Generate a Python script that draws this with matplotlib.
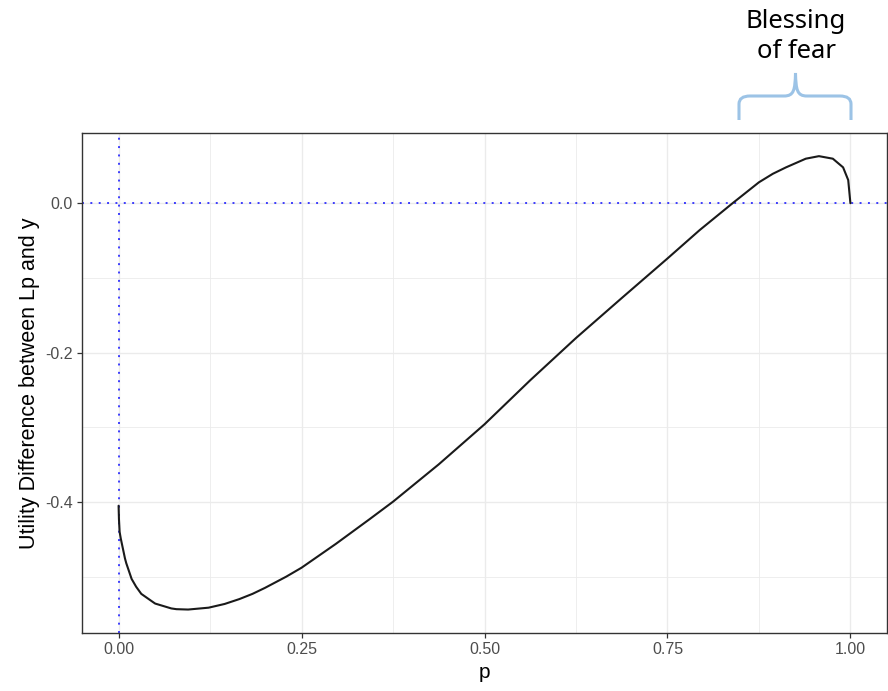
import matplotlib
matplotlib.use("Agg")
import matplotlib.pyplot as plt
import matplotlib.transforms as mtransforms
from matplotlib.path import Path
from matplotlib.patches import PathPatch

# Data
p_vals = [0.0, 0.0005, 0.0014, 0.003, 0.0087, 0.0105, 0.0178, 0.024, 0.031, 0.047,
          0.050, 0.072, 0.079, 0.095, 0.123, 0.145, 0.165, 0.183, 0.2, 0.229,
          0.25, 0.297, 0.343, 0.375, 0.4375, 0.5, 0.5625, 0.625, 0.6875, 0.75,
          0.794, 0.839, 0.875, 0.894, 0.912, 0.939, 0.957, 0.976, 0.990, 0.997, 1.0]
u_diff = [-0.405, -0.423, -0.440, -0.449, -0.4755, -0.482, -0.503, -0.5135, -0.523, -0.534,
          -0.536, -0.5425, -0.5435, -0.544, -0.5415, -0.5365, -0.530, -0.523, -0.515, -0.500,
          -0.488, -0.456, -0.423, -0.3996, -0.3496, -0.296, -0.237, -0.1805, -0.127, -0.074,
          -0.036, 0.0, 0.028, 0.0394, 0.048, 0.0596, 0.063, 0.0596, 0.048, 0.031, 0.0]
x_ticks = [0.0, 0.25, 0.5, 0.75, 1.0]
x_tick_labels = ["0.00", "0.25", "0.50", "0.75", "1.00"]
y_ticks = [-0.4, -0.2, 0.0]
y_tick_labels = ["-0.4", "-0.2", "0.0"]
x_minor = [0.125, 0.375, 0.625, 0.875]
y_minor = [-0.5, -0.3, -0.1]
annotation_lines = ["Blessing", "of fear"]

W, H = 888, 691
fig = plt.figure(figsize=(W / 100, H / 100), dpi=100)
ax = fig.add_axes([82 / W, (H - 633) / H, (887 - 82) / W, (633 - 133) / H])

ax.set_xlim(-0.05, 1.05)
ax.set_ylim(-0.5754, 0.094)

ax.set_xticks(x_ticks)
ax.set_xticklabels(x_tick_labels)
ax.set_yticks(y_ticks)
ax.set_yticklabels(y_tick_labels)
ax.set_xticks(x_minor, minor=True)
ax.set_yticks(y_minor, minor=True)

ax.grid(True, which="major", color="#EBEBEB", lw=1.0)
ax.grid(True, which="minor", color="#EBEBEB", lw=0.6)
ax.set_axisbelow(True)

for s in ax.spines.values():
    s.set_color("#333333")
    s.set_linewidth(1.0)

ax.tick_params(which="major", length=3.6, width=0.9, color="#333333",
               labelsize=11.5, labelcolor="#4D4D4D", pad=3)
ax.tick_params(which="minor", length=0)
for lab in ax.get_xticklabels() + ax.get_yticklabels():
    lab.set_family("Liberation Sans")

ax.axvline(0, color="blue", lw=1.4, alpha=0.75, ls=(0, (1, 3.3)), zorder=2)
ax.axhline(0, color="blue", lw=1.4, alpha=0.75, ls=(0, (1, 3.3)), zorder=2)

ax.plot(p_vals, u_diff, color="#1a1a1a", lw=1.5, zorder=3,
        solid_joinstyle="round", solid_capstyle="round")

ax.set_xlabel("p", family="Liberation Sans", fontsize=15, labelpad=4)
ax.set_ylabel("Utility Difference between Lp and y", family="Liberation Sans",
              fontsize=15.5, labelpad=4)

# Brace annotation in figure pixel coordinates (top-left origin)
pix = mtransforms.Affine2D().scale(1 / W, -1 / H).translate(0, 1) + fig.transFigure
verts = [
    (739, 120), (739, 104), (739, 96), (750, 96),
    (784, 96), (794, 96), (795, 90), (795.5, 73),
    (796, 90), (797, 96), (807, 96),
    (840, 96), (851, 96), (851, 104), (851, 120),
]
codes = [Path.MOVETO, Path.LINETO, Path.CURVE3, Path.CURVE3,
         Path.LINETO, Path.CURVE4, Path.CURVE4, Path.CURVE4,
         Path.CURVE4, Path.CURVE4, Path.CURVE4,
         Path.LINETO, Path.CURVE3, Path.CURVE3, Path.LINETO]
brace = PathPatch(Path(verts, codes), facecolor="none", edgecolor="#9cc3e6",
                  lw=2.2, transform=pix, clip_on=False)
fig.patches.append(brace)

fig.text(796, 21, annotation_lines[0], transform=pix, ha="center", va="center",
         fontsize=18.5, family="Noto Sans", color="black")
fig.text(796, 51, annotation_lines[1], transform=pix, ha="center", va="center",
         fontsize=18.5, family="Noto Sans", color="black")

fig.savefig("out.png", dpi=100, facecolor="white")
